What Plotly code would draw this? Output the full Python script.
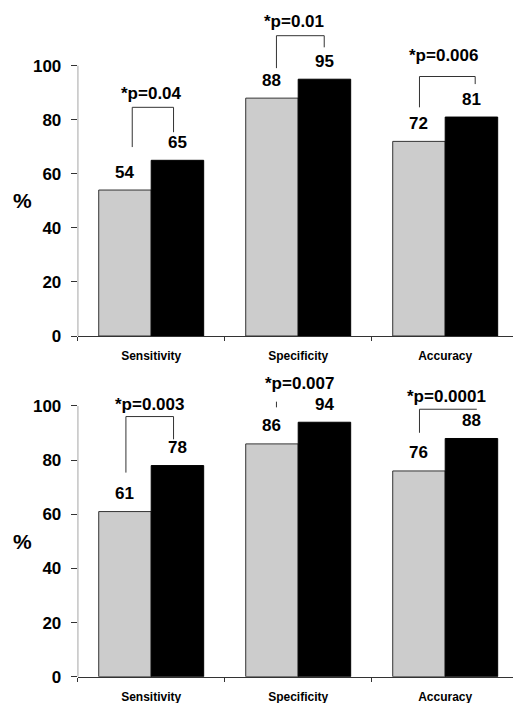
import plotly.graph_objects as go

# Categories and percentages for the two panels (gray = first method, black = second)
categories = ["Sensitivity", "Specificity", "Accuracy"]
top_gray = [54, 88, 72]
top_black = [65, 95, 81]
bottom_gray = [61, 86, 76]
bottom_black = [78, 94, 88]

# Significance labels per panel
top_pvals = ["*p=0.04", "*p=0.01", "*p=0.006"]
bottom_pvals = ["*p=0.003", "*p=0.007", "*p=0.0001"]

# Label placement: (x offset from category centre, y in data units)
top_p_pos = [(0.005, 89.9), (-0.03, 116.4), (-0.01, 103.7)]
bottom_p_pos = [(-0.014, 100.6), (0.007, 108.2), (0.01, 103.4)]

# Bracket legs: (left dx, left bottom, top, right dx, right bottom or None)
top_brackets = [(-0.129, 69.9, 84.6, 0.152, 75.4),
                (-0.148, 99.1, 111.1, 0.177, 106.8),
                (-0.175, 84.6, 96.0, 0.204, 93.2)]
bottom_brackets = [(-0.172, 75.4, 96.1, 0.152, 87.7),
                   (-0.148, 99.5, 101.6, None, None),
                   (-0.175, 90.1, 98.8, 0.215, None)]

W, H = 513, 703
FONT = "Arial, Liberation Sans, sans-serif"
GRAY = "#cccccc"
LINE = "#333333"
BARGAP = 0.286
HALF = (1 - BARGAP) / 4  # centre offset of each bar within its group

# plot-area geometry in pixels
x_left = 77.7
panels = [
    dict(y0=336.0, y100=65.7),   # top panel: pixel rows of value 0 and 100
    dict(y0=676.7, y100=406.0),
]
YMAX = 122

fig = go.Figure()
shapes = []
annotations = []

data = [
    (top_gray, top_black, top_pvals, top_p_pos, top_brackets),
    (bottom_gray, bottom_black, bottom_pvals, bottom_p_pos, bottom_brackets),
]

for k, (gray, black, pvals, ppos, brackets) in enumerate(data):
    xa = "x" if k == 0 else "x2"
    ya = "y" if k == 0 else "y2"
    fig.add_trace(go.Bar(x=categories, y=gray, xaxis=xa, yaxis=ya,
                         marker=dict(color=GRAY, line=dict(color=LINE, width=1)),
                         offsetgroup="a", showlegend=False, hoverinfo="skip"))
    fig.add_trace(go.Bar(x=categories, y=black, xaxis=xa, yaxis=ya,
                         marker=dict(color="black", line=dict(color="black", width=1)),
                         offsetgroup="b", showlegend=False, hoverinfo="skip"))

    # value labels above each bar
    for i in range(len(categories)):
        for val, dx in ((gray[i], -HALF), (black[i], HALF)):
            annotations.append(dict(x=i + dx, y=val, xref=xa, yref=ya, text=str(val),
                                    showarrow=False, yshift=18, yanchor="middle",
                                    font=dict(family=FONT, size=17, color="black", weight="bold")))
        dx, yy = ppos[i]
        annotations.append(dict(x=i + dx, y=yy, xref=xa, yref=ya, text=pvals[i],
                                showarrow=False, yanchor="middle", xanchor="center",
                                font=dict(family=FONT, size=17, color="black", weight="bold")))
        lx, lb, top, rx, rb = brackets[i]
        line = dict(color=LINE, width=1)
        shapes.append(dict(type="line", xref=xa, yref=ya, x0=i + lx, x1=i + lx,
                           y0=lb, y1=top, line=line))
        if rx is not None:
            shapes.append(dict(type="line", xref=xa, yref=ya, x0=i + lx, x1=i + rx,
                               y0=top, y1=top, line=line))
            if rb is not None:
                shapes.append(dict(type="line", xref=xa, yref=ya, x0=i + rx, x1=i + rx,
                                   y0=top, y1=rb, line=line))

    # y axis line only spans 0-100
    shapes.append(dict(type="line", xref=xa, yref=ya, x0=-0.5, x1=-0.5, y0=0, y1=100,
                       line=dict(color=LINE, width=1)))
    # "%" axis label
    annotations.append(dict(x=22.5 / W, y=50, xref="paper", yref=ya, text="%",
                            showarrow=False, xanchor="center", yanchor="middle",
                            font=dict(family=FONT, size=21, color="black", weight="bold")))

px_per_unit = 147.0
x_range = [-0.5, -0.5 + (W - x_left) / px_per_unit]

layout_axes = {}
for k, p in enumerate(panels):
    scale = (p["y0"] - p["y100"]) / 100
    top_px = p["y0"] - YMAX * scale
    dom = [1 - p["y0"] / H, 1 - top_px / H]
    xkey = "xaxis" if k == 0 else "xaxis2"
    ykey = "yaxis" if k == 0 else "yaxis2"
    layout_axes[xkey] = dict(
        domain=[x_left / W, 1], range=x_range, type="category",
        anchor="y" if k == 0 else "y2",
        showline=True, linecolor=LINE, linewidth=1,
        ticks="outside", tickson="boundaries", ticklen=4, tickcolor=LINE,
        showgrid=False, zeroline=False, automargin=False,
        tickfont=dict(family=FONT, size=12, color="black", weight="bold"),
        ticklabelstandoff=9,
    )
    layout_axes[ykey] = dict(
        domain=dom, range=[0, YMAX], anchor="x" if k == 0 else "x2",
        tickvals=[0, 20, 40, 60, 80, 100],
        ticks="outside", ticklen=6, tickcolor=LINE,
        showline=False, showgrid=False, zeroline=False, automargin=False,
        tickfont=dict(family=FONT, size=17, color="black", weight="bold"),
        ticklabelstandoff=6,
    )

fig.update_layout(
    width=W, height=H,
    margin=dict(l=0, r=0, t=0, b=0),
    paper_bgcolor="white", plot_bgcolor="white",
    barmode="group", bargap=BARGAP, bargroupgap=0,
    shapes=shapes, annotations=annotations,
    **layout_axes,
)

fig.write_html("out.html")
